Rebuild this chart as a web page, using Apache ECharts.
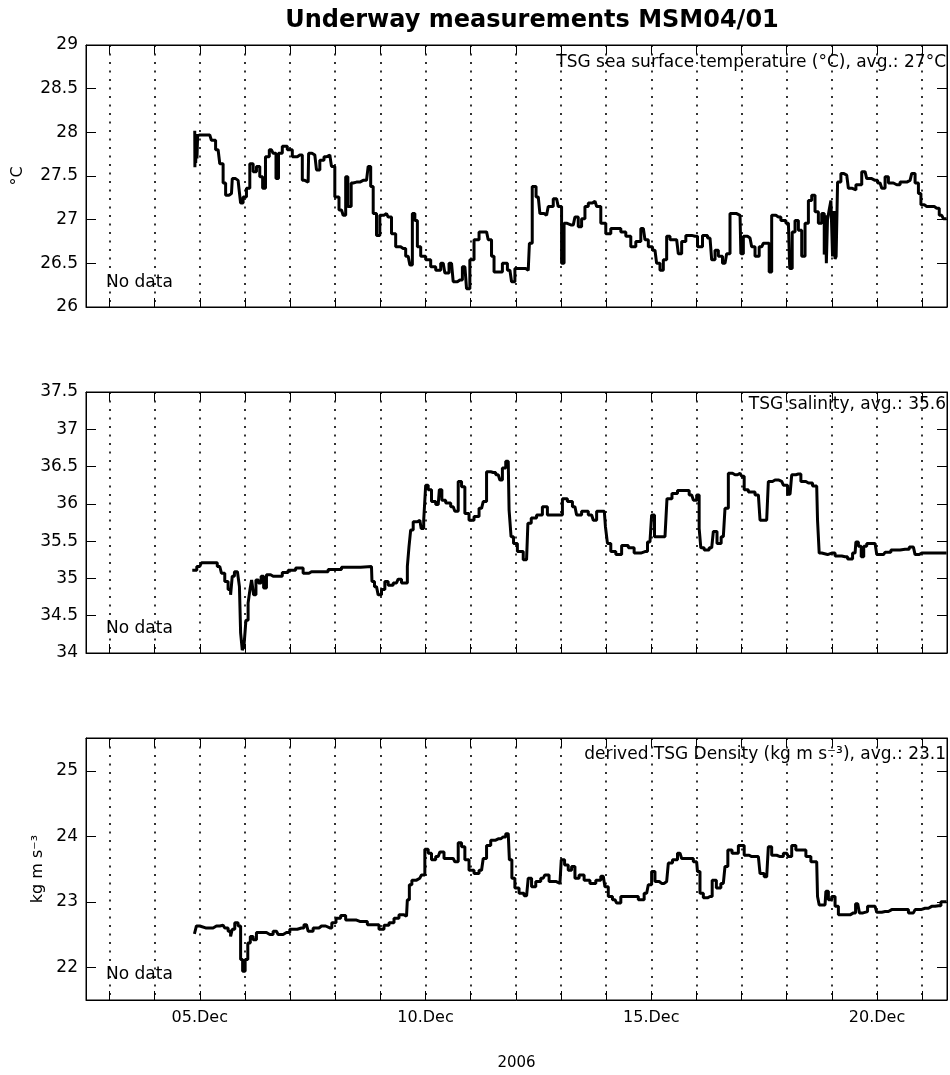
<!DOCTYPE html>
<html>
<head>
<meta charset="utf-8">
<script src="https://cdn.jsdelivr.net/npm/echarts@6/dist/echarts.min.js"></script>
<style>
  html, body { margin: 0; padding: 0; background: #fff; }
  #chart { width: 950px; height: 1075px; }
</style>
</head>
<body>
<div id="chart"></div>
<script>
// Time is given as day of December 2006 (fractional days).
const tempDays = [
  4.889, 4.895, 4.905, 4.915, 4.93, 4.945, 4.96, 5.0, 5.111, 5.221, 5.295, 5.406, 5.48, 5.554, 5.591,
  5.702, 5.738, 5.849, 5.886, 5.923, 5.997, 6.071, 6.145, 6.219, 6.292, 6.366, 6.418, 6.492, 6.588,
  6.662, 6.714, 6.773, 6.883, 6.994, 7.105, 7.216, 7.326, 7.4, 7.422, 7.548, 7.622, 7.696, 7.807,
  7.88, 7.954, 8.028, 8.139, 8.213, 8.25, 8.309, 8.398, 8.471, 8.619, 8.693, 8.767, 8.804, 8.878,
  8.951, 9.025, 9.136, 9.21, 9.284, 9.394, 9.505, 9.616, 9.69, 9.727, 9.801, 9.838, 9.948, 10.059,
  10.17, 10.281, 10.392, 10.465, 10.576, 10.65, 10.761, 10.872, 10.945, 11.019, 11.13, 11.241,
  11.352, 11.425, 11.499, 11.536, 11.647, 11.758, 11.869, 11.943, 12.016, 12.164, 12.275, 12.327,
  12.4, 12.497, 12.57, 12.681, 12.755, 12.903, 12.977, 13.05, 13.087, 13.162, 13.273, 13.346, 13.42,
  13.494, 13.568, 13.642, 13.753, 13.827, 13.937, 14.048, 14.159, 14.27, 14.381, 14.491, 14.602,
  14.713, 14.824, 14.898, 14.971, 15.082, 15.156, 15.23, 15.304, 15.378, 15.452, 15.562, 15.636,
  15.71, 15.821, 15.969, 16.079, 16.19, 16.301, 16.375, 16.449, 16.522, 16.633, 16.707, 16.781,
  16.892, 16.966, 17.003, 17.076, 17.187, 17.261, 17.335, 17.446, 17.52, 17.593, 17.63, 17.704,
  17.815, 17.926, 18.037, 18.096, 18.147, 18.221, 18.295, 18.369, 18.443, 18.517, 18.59, 18.664,
  18.738, 18.812, 18.85, 18.87, 18.886, 18.92, 18.96, 18.997, 19.034, 19.06, 19.08, 19.108, 19.145,
  19.255, 19.329, 19.403, 19.477, 19.588, 19.735, 19.809, 19.957, 20.068, 20.142, 20.215, 20.289,
  20.437, 20.585, 20.732, 20.806, 20.88, 20.954, 20.991, 21.102, 21.212, 21.323, 21.434, 21.508
];
const tempValues = [
  28.0, 27.6, 27.95, 27.65, 27.98, 27.7, 27.96, 27.97, 27.97, 27.97, 27.91, 27.8, 27.64, 27.42, 27.28,
  27.3, 27.47, 27.45, 27.36, 27.19, 27.26, 27.36, 27.64, 27.55, 27.61, 27.49, 27.36, 27.72, 27.8,
  27.76, 27.47, 27.76, 27.84, 27.8, 27.72, 27.74, 27.45, 27.43, 27.76, 27.74, 27.57, 27.68, 27.72,
  27.74, 27.61, 27.26, 27.11, 27.05, 27.49, 27.15, 27.42, 27.43, 27.45, 27.45, 27.61, 27.38, 27.07,
  26.82, 27.05, 27.07, 27.03, 26.84, 26.69, 26.67, 26.58, 26.48, 27.07, 26.99, 26.69, 26.58, 26.54,
  26.46, 26.42, 26.5, 26.39, 26.5, 26.29, 26.31, 26.46, 26.21, 26.54, 26.77, 26.86,
  26.86, 26.77, 26.58, 26.4, 26.4, 26.5, 26.42, 26.29, 26.44, 26.44, 26.42, 26.73,
  27.38, 27.26, 27.07, 27.05, 27.15, 27.24, 27.15, 26.5, 26.96, 26.94, 26.94, 27.03, 26.92,
  27.01, 27.15, 27.19, 27.21, 27.15, 26.96, 26.84, 26.9, 26.9, 26.86, 26.81, 26.69,
  26.75, 26.9, 26.77, 26.69, 26.65, 26.5, 26.42, 26.54, 26.81, 26.77, 26.77, 26.61,
  26.75, 26.82, 26.81, 26.69, 26.82, 26.79, 26.54, 26.65, 26.58, 26.5, 26.61, 27.07,
  27.07, 27.05, 26.61, 26.81, 26.79, 26.69, 26.58, 26.69, 26.73, 26.73, 26.4, 27.05,
  27.03, 26.99, 26.96, 26.44, 26.86, 26.99, 26.88, 26.58, 26.96, 27.22, 27.28, 27.09,
  26.96, 27.07, 26.6, 27.05, 26.5, 27.0, 27.11, 27.22, 26.58, 27.1, 26.55, 26.58, 27.43,
  27.53, 27.51, 27.36, 27.34, 27.4, 27.55, 27.47, 27.45, 27.42, 27.36, 27.49, 27.42,
  27.4, 27.43, 27.45, 27.53, 27.42, 27.3, 27.17, 27.15, 27.15, 27.13, 27.05, 27.01
];

const salinityDays = [
  4.867, 5.0, 5.073, 5.332, 5.443, 5.517, 5.59, 5.664, 5.701, 5.738, 5.797, 5.871, 5.886, 5.923, 5.96,
  5.997, 6.048, 6.093, 6.13, 6.167, 6.218, 6.27, 6.329, 6.388, 6.44, 6.514, 6.625, 6.772, 6.883,
  7.031, 7.215, 7.363, 7.474, 7.732, 7.954, 8.323, 8.803, 8.825, 8.914, 8.988, 9.062, 9.136, 9.21,
  9.357, 9.431, 9.505, 9.579, 9.616, 9.653, 9.69, 9.764, 9.874, 9.934, 9.985, 10.022, 10.096, 10.17,
  10.281, 10.332, 10.391, 10.502, 10.613, 10.687, 10.761, 10.835, 10.908, 11.019, 11.13, 11.241,
  11.315, 11.389, 11.499, 11.61, 11.684, 11.721, 11.832, 11.869, 11.92, 11.979, 12.09, 12.238,
  12.297, 12.386, 12.533, 12.644, 12.755, 12.977, 13.087, 13.198, 13.31, 13.383, 13.531, 13.679,
  13.753, 13.827, 13.96, 14.011, 14.048, 14.159, 14.27, 14.417, 14.565, 14.676, 14.861, 14.971,
  15.045, 15.097, 15.304, 15.392, 15.525, 15.636, 15.784, 15.895, 15.969, 16.042, 16.079, 16.116,
  16.227, 16.338, 16.412, 16.5, 16.596, 16.67, 16.744, 16.855, 16.966, 17.04, 17.076, 17.224,
  17.372, 17.446, 17.556, 17.63, 17.741, 17.889, 17.963, 18.074, 18.147, 18.258, 18.369, 18.48,
  18.664, 18.701, 18.738, 18.812, 18.997, 19.145, 19.292, 19.403, 19.514, 19.551, 19.624, 19.676,
  19.735, 19.809, 19.957, 20.031, 20.142, 20.215, 20.4, 20.622, 20.806, 20.88, 20.991, 21.508
];
const salinityValues = [
  35.11, 35.16, 35.21, 35.21, 35.16, 35.07, 34.96, 34.85, 34.78, 35.03, 35.09, 35.07, 34.89, 34.27, 34.04,
  34.09, 34.44, 34.67, 34.85, 34.98, 34.78, 34.98, 34.94, 35.03, 34.87, 35.05, 35.03, 35.03, 35.08,
  35.11, 35.14, 35.07, 35.09, 35.09, 35.12, 35.15, 35.16, 34.96, 34.89, 34.78, 34.85, 34.96, 34.91,
  34.94, 34.99, 34.94, 34.94, 35.16, 35.43, 35.65, 35.76, 35.78, 35.67, 35.78, 36.25, 36.19, 36.03,
  35.99, 36.19, 36.05, 36.01, 35.96, 35.9, 36.3, 36.23, 35.87, 35.78, 35.83, 35.94,
  36.03, 36.43, 36.42, 36.39, 36.32, 36.48, 36.57, 35.92, 35.56, 35.47, 35.36, 35.25,
  35.74, 35.81, 35.85, 35.96, 35.85, 35.85, 36.07, 36.03, 35.96, 35.85, 35.9, 35.85,
  35.78, 35.9, 35.9, 35.69, 35.47, 35.36, 35.32, 35.44, 35.41, 35.34, 35.36, 35.49,
  35.85, 35.56, 35.56, 36.07, 36.14, 36.18, 36.18, 36.12, 36.05, 36.12, 35.67, 35.41,
  35.38, 35.41, 35.63, 35.47, 35.56, 35.94, 36.41, 36.39, 36.41, 36.37, 36.19, 36.16,
  36.12, 35.78, 35.78, 36.3, 36.32, 36.3, 36.25, 36.13, 36.39, 36.4, 36.3, 36.28,
  36.24, 35.78, 35.34, 35.32, 35.34, 35.3, 35.29, 35.26, 35.34, 35.49, 35.43, 35.29,
  35.43, 35.47, 35.47, 35.32, 35.32, 35.35, 35.38, 35.39, 35.42, 35.32, 35.34, 35.34
];

const densityDays = [
  4.889, 4.963, 5.037, 5.221, 5.369, 5.517, 5.591, 5.664, 5.701, 5.738, 5.812, 5.886, 5.923, 5.975,
  6.034, 6.093, 6.145, 6.218, 6.292, 6.403, 6.551, 6.698, 6.772, 6.92, 7.068, 7.252, 7.363, 7.437,
  7.585, 7.696, 7.88, 7.969, 8.065, 8.176, 8.286, 8.397, 8.545, 8.656, 8.767, 8.914, 9.025, 9.136,
  9.247, 9.357, 9.468, 9.579, 9.616, 9.668, 9.727, 9.874, 9.948, 10.022, 10.096, 10.17, 10.281,
  10.354, 10.465, 10.613, 10.687, 10.761, 10.835, 10.908, 11.019, 11.13, 11.241, 11.315, 11.389,
  11.499, 11.61, 11.721, 11.832, 11.883, 11.942, 12.016, 12.127, 12.238, 12.312, 12.386, 12.497,
  12.607, 12.681, 12.792, 12.977, 13.036, 13.124, 13.198, 13.273, 13.346, 13.457, 13.568, 13.716,
  13.827, 13.937, 14.011, 14.085, 14.196, 14.27, 14.381, 14.639, 14.787, 14.898, 14.971, 15.045,
  15.119, 15.23, 15.341, 15.415, 15.525, 15.636, 15.71, 15.858, 16.005, 16.042, 16.116, 16.19,
  16.301, 16.397, 16.486, 16.596, 16.67, 16.722, 16.855, 17.003, 17.113, 17.224, 17.372, 17.446,
  17.556, 17.63, 17.704, 17.852, 17.999, 18.074, 18.147, 18.258, 18.369, 18.48, 18.59, 18.664,
  18.701, 18.738, 18.849, 18.886, 18.96, 19.034, 19.108, 19.181, 19.329, 19.477, 19.573, 19.647,
  19.735, 19.846, 19.957, 20.031, 20.179, 20.326, 20.585, 20.806, 20.88, 21.065, 21.212, 21.36,
  21.471, 21.508
];
const densityValues = [
  22.53, 22.63, 22.6, 22.6, 22.63, 22.64, 22.6, 22.55, 22.47, 22.58, 22.68, 22.63, 22.12, 21.94,
  22.12, 22.37, 22.47, 22.42, 22.53, 22.53, 22.5, 22.55, 22.5, 22.53, 22.58, 22.6, 22.65, 22.55,
  22.6, 22.63, 22.6, 22.68, 22.75, 22.79, 22.72, 22.72, 22.7, 22.7, 22.65, 22.65, 22.58, 22.64,
  22.68, 22.75, 22.8, 22.78, 23.03, 23.26, 23.33, 23.36, 23.41, 23.8, 23.74, 23.64, 23.69,
  23.76, 23.66, 23.66, 23.61, 23.9, 23.84, 23.64, 23.48, 23.43, 23.48, 23.66, 23.86,
  23.94, 23.96, 23.99, 24.04, 23.64, 23.36, 23.21, 23.13, 23.09, 23.36, 23.23, 23.31,
  23.36, 23.41, 23.31, 23.28, 23.64, 23.56, 23.48, 23.54, 23.36, 23.41, 23.33, 23.28,
  23.33, 23.39, 23.23, 23.08, 23.03, 22.98, 23.08, 23.08, 23.03, 23.13, 23.26, 23.46,
  23.31, 23.28, 23.31, 23.59, 23.64, 23.74, 23.66, 23.66, 23.61, 23.46, 23.13, 23.06,
  23.08, 23.33, 23.21, 23.28, 23.54, 23.79, 23.74, 23.86, 23.71, 23.69, 23.69, 23.43,
  23.38, 23.84, 23.71, 23.69, 23.74, 23.69, 23.86, 23.79, 23.79, 23.69, 23.61, 23.61,
  23.08, 22.95, 22.95, 23.16, 23.03, 23.08, 22.93, 22.8, 22.8, 22.83, 22.97, 22.83,
  22.85, 22.93, 22.93, 22.84, 22.85, 22.88, 22.88, 22.83, 22.88, 22.9, 22.93, 22.94,
  23.0, 23.0
];

// Axis ticks and labels
const dayTicks = [3, 4, 5, 6, 7, 8, 9, 10, 11, 12, 13, 14, 15, 16, 17, 18, 19, 20, 21];
const dateLabelDays = [5, 10, 15, 20];
const densityTicks = [22, 23, 24, 25];
const yearLabel = '2006';
const mainTitle = 'Underway measurements MSM04/01';
const panelNotes = [
  'TSG sea surface temperature (°C), avg.: 27°C',
  'TSG salinity, avg.: 35.6',
  'derived TSG Density (kg m s⁻³), avg.: 23.1'
];
const yNames = ['°C', '', 'kg m s⁻³'];
const noDataText = 'No data';

const X_MIN = 2.48, X_MAX = 21.55;
const FONT = 'DejaVu Sans';
const BLACK = '#000';

const panels = [
  { top: 45,  height: 262, min: 26,   max: 29,   interval: 0.5, ticks: null,         days: tempDays,     values: tempValues,     nameGap: 60, noteY: 63,  noDataY: 283 },
  { top: 392, height: 261, min: 34,   max: 37.5, interval: 0.5, ticks: null,         days: salinityDays, values: salinityValues, nameGap: 60, noteY: 405, noDataY: 629 },
  { top: 738, height: 262, min: 21.5, max: 25.5, interval: null, ticks: densityTicks, days: densityDays, values: densityValues,  nameGap: 36, noteY: 755, noDataY: 975 }
];

const GRID_LEFT = 86, GRID_WIDTH = 861;

const pad2 = d => (d < 10 ? '0' : '') + d;

const grid = [], xAxis = [], yAxis = [], series = [], graphic = [];

panels.forEach((p, i) => {
  grid.push({
    left: GRID_LEFT, top: p.top, width: GRID_WIDTH, height: p.height,
    show: true, borderColor: BLACK, borderWidth: 1, backgroundColor: '#fff',
    outerBoundsMode: 'none', containLabel: false
  });
  const isLast = i === panels.length - 1;
  // bottom x axis with dotted daily grid lines
  xAxis.push({
    type: 'value', gridIndex: i, position: 'bottom', min: X_MIN, max: X_MAX,
    axisLine: { show: true, onZero: false, lineStyle: { color: BLACK, width: 1 } },
    axisTick: { show: true, inside: true, length: 9, customValues: dayTicks, lineStyle: { color: BLACK, width: 1 } },
    axisLabel: {
      show: isLast, customValues: dateLabelDays, margin: 10, color: BLACK,
      fontFamily: FONT, fontSize: 16, formatter: v => pad2(Math.round(v)) + '.Dec'
    },
    splitLine: { show: true, lineStyle: { color: BLACK, width: 1.6, type: [2, 6.5] } },
    name: isLast ? yearLabel : '', nameLocation: 'middle', nameGap: 56,
    nameTextStyle: { color: BLACK, fontFamily: FONT, fontSize: 15 }
  });
  // top x axis: mirrored tick marks only
  xAxis.push({
    type: 'value', gridIndex: i, position: 'top', min: X_MIN, max: X_MAX,
    axisLine: { show: true, onZero: false, lineStyle: { color: BLACK, width: 1 } },
    axisTick: { show: true, inside: true, length: 9, customValues: dayTicks, lineStyle: { color: BLACK, width: 1 } },
    axisLabel: { show: false }, splitLine: { show: false }
  });
  const yTick = p.ticks
    ? { customValues: p.ticks }
    : {};
  const yBase = {
    type: 'value', gridIndex: i, min: p.min, max: p.max,
    axisLine: { show: true, onZero: false, lineStyle: { color: BLACK, width: 1 } },
    splitLine: { show: false }
  };
  if (p.interval) yBase.interval = p.interval;
  yAxis.push(Object.assign({}, yBase, {
    position: 'left',
    axisTick: Object.assign({ show: true, inside: true, length: 10, lineStyle: { color: BLACK, width: 1 } }, yTick),
    axisLabel: Object.assign({ show: true, margin: 8, color: BLACK, fontFamily: FONT, fontSize: 17 }, yTick),
    name: yNames[i], nameLocation: 'middle', nameRotate: 90, nameGap: p.nameGap,
    nameTextStyle: { color: BLACK, fontFamily: FONT, fontSize: 16 }
  }));
  yAxis.push(Object.assign({}, yBase, {
    position: 'right',
    axisTick: Object.assign({ show: true, inside: true, length: 10, lineStyle: { color: BLACK, width: 1 } }, yTick),
    axisLabel: { show: false }
  }));

  series.push({
    type: 'line', xAxisIndex: i * 2, yAxisIndex: i * 2,
    data: p.days.map((d, k) => [d, p.values[k]]),
    showSymbol: false, symbol: 'none', smooth: false, step: 'middle', clip: true,
    lineStyle: { color: BLACK, width: 3, join: 'bevel', cap: 'square' },
    z: 3, silent: true
  });

  graphic.push({
    type: 'text', z: 10,
    style: { text: panelNotes[i], x: GRID_LEFT + GRID_WIDTH - 1, y: p.noteY, align: 'right', verticalAlign: 'middle',
             fill: BLACK, fontFamily: FONT, fontSize: 17 }
  });
  graphic.push({
    type: 'text', z: 10,
    style: { text: noDataText, x: 106, y: p.noDataY, align: 'left', verticalAlign: 'middle',
             fill: BLACK, fontFamily: FONT, fontSize: 17 }
  });
});

const chart = echarts.init(document.getElementById('chart'), null, { renderer: 'canvas' });
chart.setOption({
  backgroundColor: '#fff',
  animation: false,
  title: {
    text: mainTitle, left: 527, top: 4, textAlign: 'center',
    textStyle: { color: BLACK, fontFamily: FONT, fontWeight: 'bold', fontSize: 24 }
  },
  grid, xAxis, yAxis, series, graphic
});
</script>
</body>
</html>
